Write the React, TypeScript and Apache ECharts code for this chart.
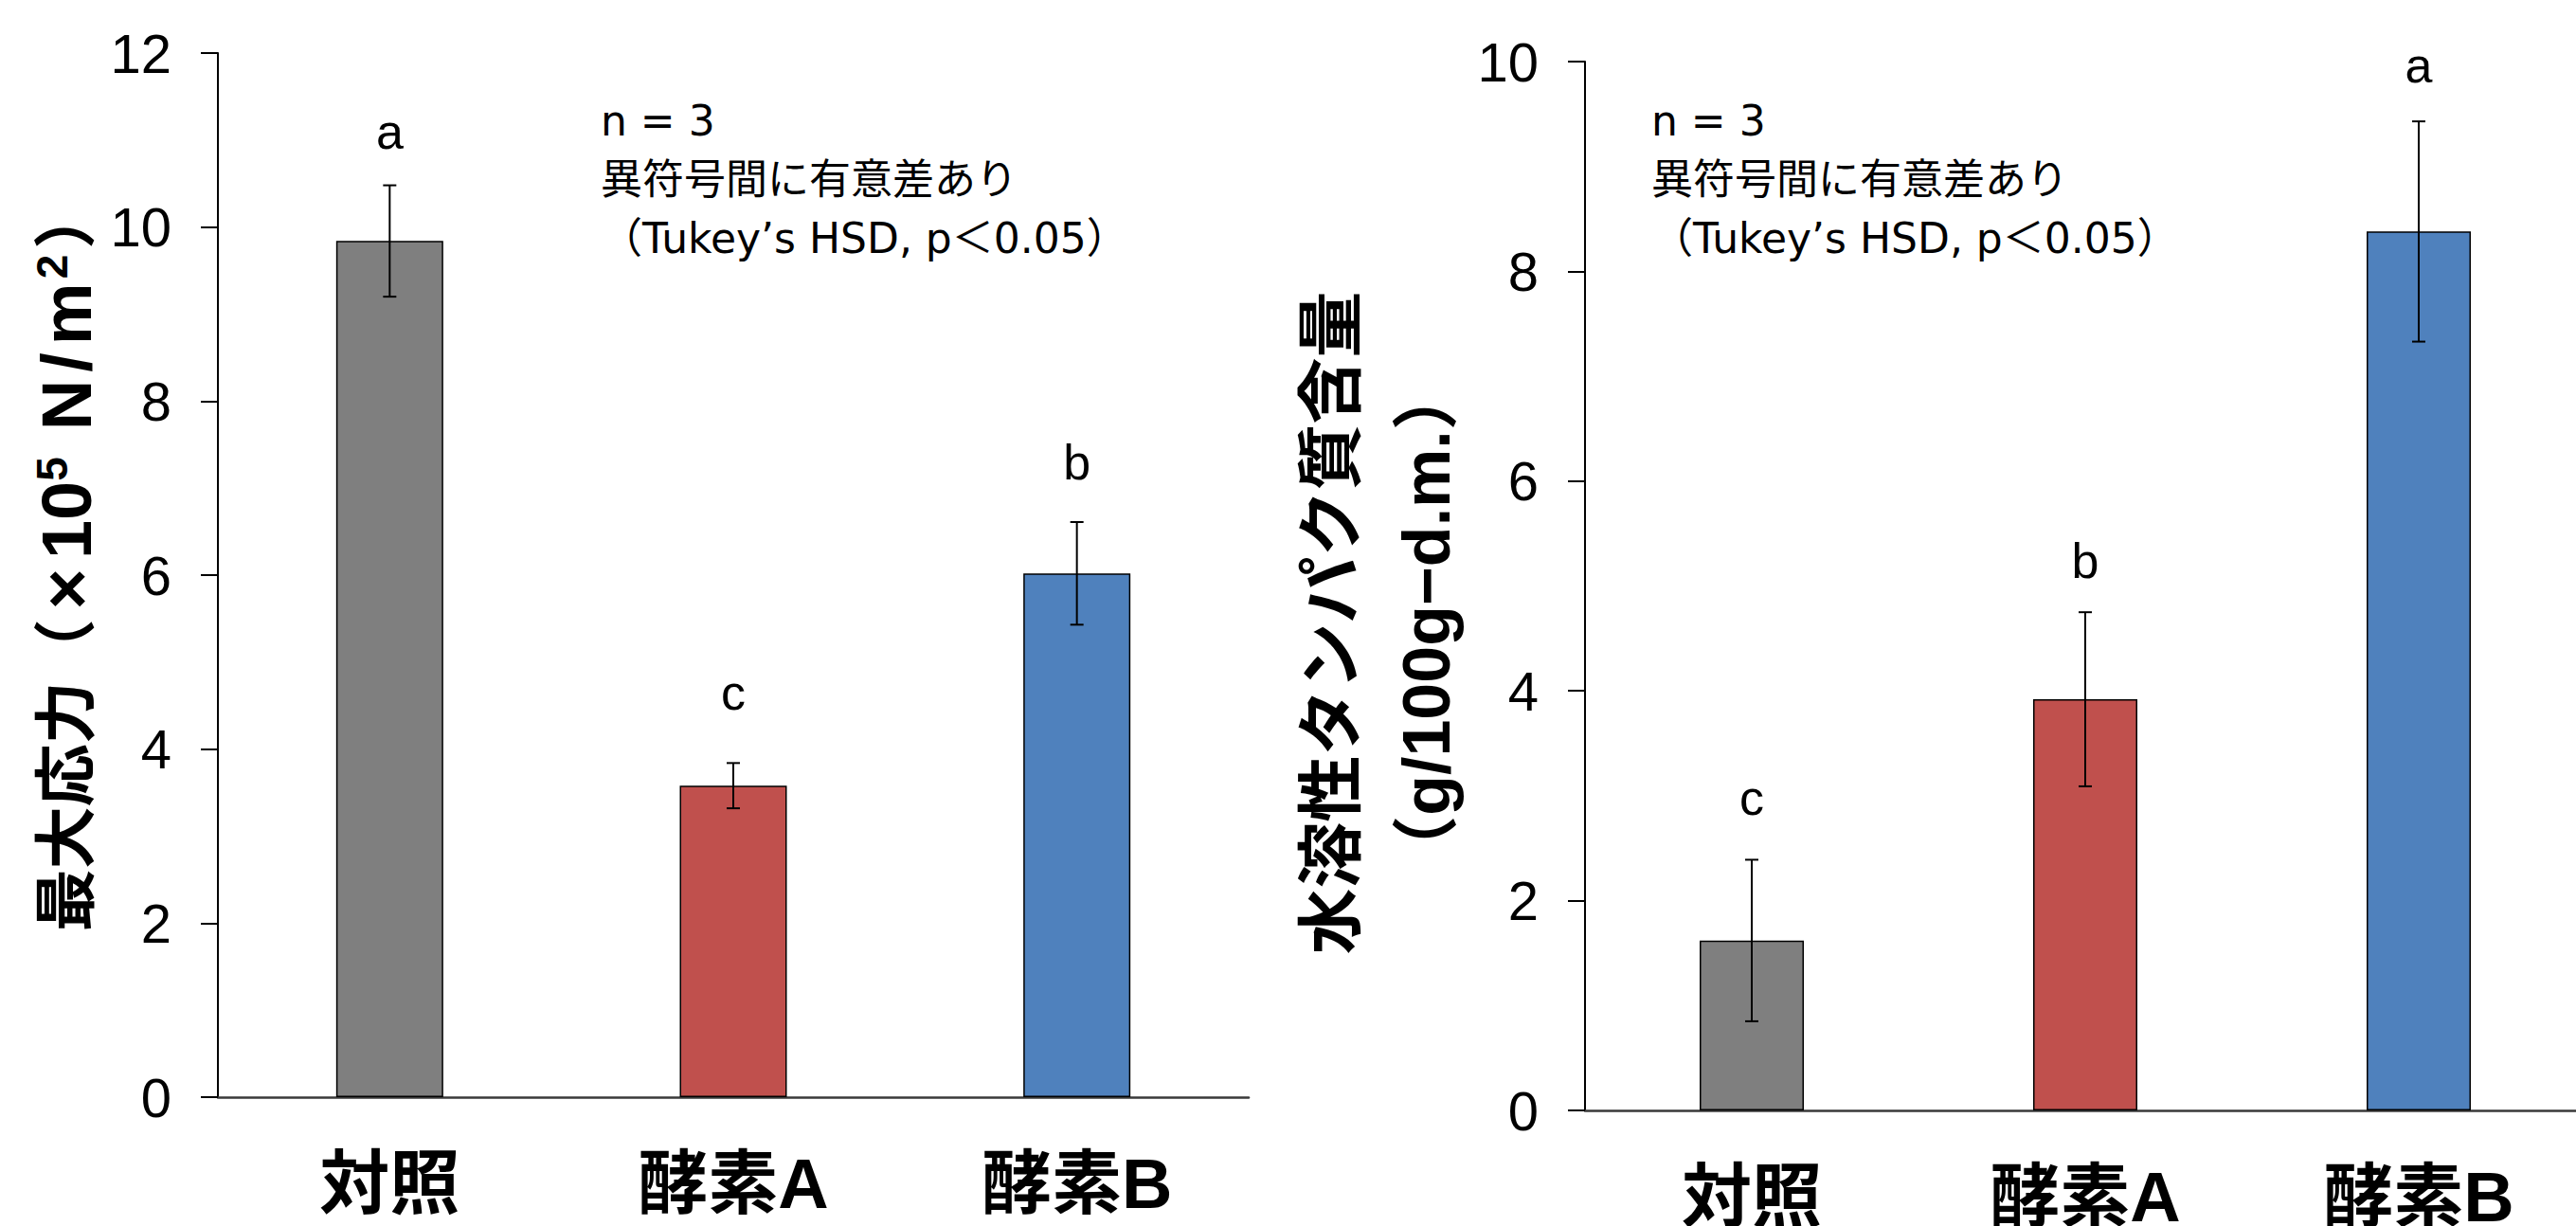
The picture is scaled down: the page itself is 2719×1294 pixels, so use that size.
import React, { useEffect, useRef } from 'react';
import * as echarts from 'echarts';

// ---- data ----
const categories = ['対照', '酵素A', '酵素B'];
const barColors = ['#7F7F7F', '#C0504D', '#4F81BD'];

const stressMeans = [9.84, 3.58, 6.02];
const stressErrors = [0.64, 0.26, 0.59];
const stressLetters = ['a', 'c', 'b'];
const stressLetterY = [10.9, 4.45, 7.1];
const stressMax = 12;

const proteinMeans = [1.62, 3.92, 8.38];
const proteinErrors = [0.77, 0.83, 1.05];
const proteinLetters = ['c', 'b', 'a'];
const proteinLetterY = [2.82, 5.08, 9.8];
const proteinMax = 10;

const yInterval = 2;
const noteLines = ['n = 3', '異符号間に有意差あり', '（Tukey’s HSD, p＜0.05）'];

const LATIN = "'Liberation Sans', 'Noto Sans CJK JP', sans-serif";
const NOTE_FONT = "'DejaVu Sans', 'Noto Sans CJK JP', sans-serif";

function barSeries(idx: number, means: number[], width: number) {
  return {
    type: 'bar',
    xAxisIndex: idx,
    yAxisIndex: idx,
    barWidth: width,
    data: means.map((v, i) => ({
      value: v,
      itemStyle: { color: barColors[i], borderColor: '#000', borderWidth: 1.5 },
    })),
    z: 2,
  };
}

function errorSeries(idx: number, means: number[], errs: number[]) {
  return {
    type: 'custom',
    xAxisIndex: idx,
    yAxisIndex: idx,
    z: 5,
    encode: { x: 0, y: [1, 2] },
    data: means.map((m, i) => [i, m - errs[i], m + errs[i]]),
    renderItem: (params: any, api: any) => {
      const lo = api.coord([api.value(0), api.value(1)]);
      const hi = api.coord([api.value(0), api.value(2)]);
      const x = lo[0];
      const w = 7;
      const st = { stroke: '#000', lineWidth: 2 };
      return {
        type: 'group',
        children: [
          { type: 'line', shape: { x1: x, y1: hi[1], x2: x, y2: lo[1] }, style: st },
          { type: 'line', shape: { x1: x - w, y1: hi[1], x2: x + w, y2: hi[1] }, style: st },
          { type: 'line', shape: { x1: x - w, y1: lo[1], x2: x + w, y2: lo[1] }, style: st },
        ],
      };
    },
  };
}

function letterSeries(idx: number, ys: number[], letters: string[]) {
  return {
    type: 'custom',
    xAxisIndex: idx,
    yAxisIndex: idx,
    z: 6,
    data: ys.map((y, i) => [i, y]),
    renderItem: (params: any, api: any) => {
      const p = api.coord([api.value(0), api.value(1)]);
      return {
        type: 'text',
        x: p[0],
        y: p[1] - 18,
        style: {
          text: letters[params.dataIndex],
          fill: '#000',
          fontSize: 52,
          fontFamily: LATIN,
          align: 'center',
          verticalAlign: 'middle',
        },
      };
    },
  };
}

function xAxis(idx: number) {
  return {
    gridIndex: idx,
    type: 'category',
    data: categories,
    axisLine: { show: true, lineStyle: { color: '#3a3a3a', width: 2.5 } },
    axisTick: { show: false },
    axisLabel: {
      color: '#000',
      fontSize: 74,
      fontWeight: 'bold',
      fontFamily: LATIN,
      margin: 54,
      interval: 0,
    },
    splitLine: { show: false },
  };
}

function yAxis(idx: number, max: number, extra: any) {
  return {
    gridIndex: idx,
    type: 'value',
    min: 0,
    max,
    interval: yInterval,
    axisLine: { show: true, lineStyle: { color: '#000', width: 2 } },
    axisTick: { show: true, inside: false, length: 18, lineStyle: { color: '#000', width: 2 } },
    axisLabel: { color: '#000', fontSize: 58, fontFamily: LATIN, margin: 49 },
    splitLine: { show: false },
    nameLocation: 'middle',
    nameRotate: 90,
    nameMoveOverlap: false,
    ...extra,
  };
}

const base = { fontWeight: 'bold', fontFamily: LATIN, color: '#000' };

export default function App() {
  const ref = useRef<HTMLDivElement>(null);
  useEffect(() => {
    const chart = echarts.init(ref.current as HTMLDivElement, null, { renderer: 'svg' });
    const noteStyle = {
      text: noteLines.join('\n'),
      fontSize: 44,
      lineHeight: 62,
      fontFamily: NOTE_FONT,
      fill: '#000',
    };
    const option: any = {
      animation: false,
      backgroundColor: '#fff',
      grid: [
        { left: 230, top: 56, width: 1088, height: 1102, containLabel: false, outerBoundsMode: 'none' },
        { left: 1673, top: 65, width: 1056, height: 1107, containLabel: false, outerBoundsMode: 'none' },
      ],
      xAxis: [xAxis(0), xAxis(1)],
      yAxis: [
        yAxis(0, stressMax, {
          name: '{t|最大応力}{q|（}{x|×}{l|10}{s1|5}{g|N}{g|/}{g|m}{s|2}{r|）}',
          nameGap: 122,
          nameTextStyle: {
            padding: [0, 0, 0, 34],
            rich: {
              t: { ...base, fontSize: 66, lineHeight: 76 },
              q: { ...base, fontSize: 66, lineHeight: 76, padding: [0, 10, 0, 0] },
              x: { ...base, fontSize: 74, lineHeight: 76, padding: [0, 10, 0, 0] },
              l: { ...base, fontSize: 74, lineHeight: 76 },
              s1: { ...base, fontSize: 46, lineHeight: 46, verticalAlign: 'top', padding: [0, 24, 0, 0] },
              s: { ...base, fontSize: 46, lineHeight: 46, verticalAlign: 'top' },
              g: { ...base, fontSize: 74, lineHeight: 76, padding: [0, 4, 0, 4] },
              r: { ...base, fontSize: 66, lineHeight: 76, padding: [0, 0, 0, 6] },
            },
          },
        }),
        yAxis(1, proteinMax, {
          name: '水溶性タンパク質含量\n（g/100g−d.m.）',
          nameGap: 117,
          nameTextStyle: {
            padding: [0, 78, 0, 0],
            fontSize: 70,
            fontWeight: 'bold',
            fontFamily: LATIN,
            color: '#000',
            lineHeight: 100,
          },
        }),
      ],
      graphic: [
        { type: 'text', left: 634, top: 96, style: noteStyle },
        { type: 'text', left: 1743, top: 96, style: noteStyle },
      ],
      series: [
        barSeries(0, stressMeans, 113),
        errorSeries(0, stressMeans, stressErrors),
        letterSeries(0, stressLetterY, stressLetters),
        barSeries(1, proteinMeans, 110),
        errorSeries(1, proteinMeans, proteinErrors),
        letterSeries(1, proteinLetterY, proteinLetters),
      ],
    };
    chart.setOption(option);
    return () => chart.dispose();
  }, []);
  return (
    <div
      ref={ref}
      style={{ position: 'fixed', left: 0, top: 0, width: 2719, height: 1294, background: '#fff' }}
    />
  );
}
